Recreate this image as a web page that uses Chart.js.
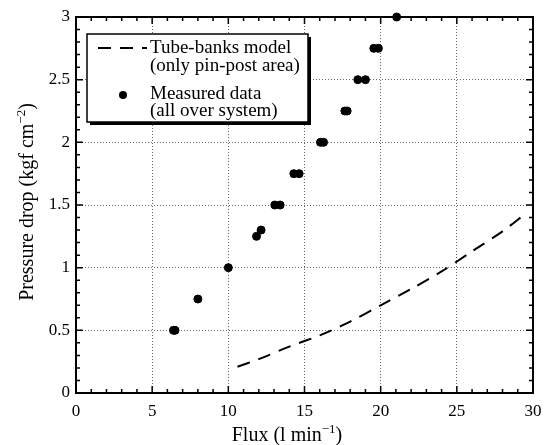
<!DOCTYPE html>
<html>
<head>
<meta charset="utf-8">
<script src="https://cdn.jsdelivr.net/npm/chart.js@4.4.0/dist/chart.umd.min.js"></script>
<style>
  html, body { margin: 0; padding: 0; background: #fff; }
</style>
</head>
<body>
<canvas id="grafico" width="545" height="445"></canvas>
<script>
// measured points
const fluxMeasured = [6.4, 6.5, 8.0, 10.0, 11.85, 12.15, 13.05, 13.4, 14.3, 14.65, 16.05, 16.25, 17.65, 17.8, 18.5, 19.0, 19.55, 19.85, 21.05];
const pressureMeasured = [0.5, 0.5, 0.75, 1.0, 1.25, 1.3, 1.5, 1.5, 1.75, 1.75, 2.0, 2.0, 2.25, 2.25, 2.5, 2.5, 2.75, 2.75, 3.0];

// tube-banks model curve
const fluxModel = [10.6, 12, 14, 16, 18, 20, 22, 24, 26, 28, 29.4];
const pressureModel = [0.21, 0.27, 0.37, 0.46, 0.57, 0.70, 0.83, 0.97, 1.13, 1.29, 1.42];

const xTicks = [0, 5, 10, 15, 20, 25, 30];
const yTicks = [0, 0.5, 1, 1.5, 2, 2.5, 3];

const legendLines = [
  ['Tube-banks model', '(only pin-post area)'],
  ['Measured data', '(all over system)']
];

// axis titles: [main text, superscript, closing]
const xTitle = ['Flux (l min', '−1', ')'];
const yTitle = ['Pressure drop (kgf cm', '−2', ')'];

const serif = '"Liberation Serif", "Times New Roman", serif';

const toPoints = (xs, ys) => xs.map((v, i) => ({ x: v, y: ys[i] }));

// draws a title with a raised exponent, centred on cx of the current transform
function tituloSup(ctx, parts, cx, baseY) {
  const big = '20px ' + serif, small = '13px ' + serif;
  ctx.font = big;
  const w1 = ctx.measureText(parts[0]).width;
  const w3 = ctx.measureText(parts[2]).width;
  ctx.font = small;
  const w2 = ctx.measureText(parts[1]).width;
  const x0 = cx - (w1 + w2 + w3) / 2;
  ctx.textAlign = 'left';
  ctx.textBaseline = 'alphabetic';
  ctx.font = big;
  ctx.fillText(parts[0], x0, baseY);
  ctx.font = small;
  ctx.fillText(parts[1], x0 + w1, baseY - 8);
  ctx.font = big;
  ctx.fillText(parts[2], x0 + w1 + w2, baseY);
}

// inward ticks on all four sides, frame, titles and boxed legend
const moldura = {
  id: 'moldura',
  beforeDatasetsDraw(chart) {
    const { ctx, chartArea: a, scales: { x, y } } = chart;
    ctx.save();
    ctx.strokeStyle = '#000';
    ctx.lineWidth = 1.5;
    ctx.beginPath();
    for (let i = 0; i <= 30; i++) {
      const px = x.getPixelForValue(i);
      const len = i % 5 === 0 ? 7 : 4;
      ctx.moveTo(px, a.bottom); ctx.lineTo(px, a.bottom - len);
      ctx.moveTo(px, a.top); ctx.lineTo(px, a.top + len);
    }
    for (let i = 0; i <= 30; i++) {
      const py = y.getPixelForValue(i / 10);
      const len = i % 5 === 0 ? 7 : 4;
      ctx.moveTo(a.left, py); ctx.lineTo(a.left + len, py);
      ctx.moveTo(a.right, py); ctx.lineTo(a.right - len, py);
    }
    ctx.stroke();
    ctx.lineWidth = 2;
    ctx.strokeRect(a.left, a.top, a.right - a.left, a.bottom - a.top);

    // axis titles
    ctx.fillStyle = '#000';
    tituloSup(ctx, xTitle, 287, 441);
    ctx.translate(33, (a.top + a.bottom) / 2 - 3);
    ctx.rotate(-Math.PI / 2);
    tituloSup(ctx, yTitle, 0, 0);
    ctx.restore();
  },
  afterDatasetsDraw(chart) {
    const { ctx, chartArea: a } = chart;
    const bx = a.left + 11, by = a.top + 17, bw = 221, bh = 88;
    ctx.save();
    // shadow + box
    ctx.fillStyle = '#000';
    ctx.fillRect(bx + 3, by + 3, bw, bh);
    ctx.fillStyle = '#fff';
    ctx.fillRect(bx, by, bw, bh);
    ctx.strokeStyle = '#000';
    ctx.lineWidth = 1.5;
    ctx.strokeRect(bx, by, bw, bh);

    // dashed sample
    ctx.lineWidth = 2;
    ctx.setLineDash([13, 9]);
    ctx.beginPath();
    ctx.moveTo(bx + 11, by + 14);
    ctx.lineTo(bx + 60, by + 14);
    ctx.stroke();
    ctx.setLineDash([]);

    // dot sample
    ctx.fillStyle = '#000';
    ctx.beginPath();
    ctx.arc(bx + 36, by + 61, 4, 0, Math.PI * 2);
    ctx.fill();

    ctx.font = '19px ' + serif;
    ctx.textBaseline = 'alphabetic';
    ctx.textAlign = 'left';
    const tx = bx + 63;
    ctx.fillText(legendLines[0][0], tx, by + 19);
    ctx.fillText(legendLines[0][1], tx, by + 37);
    ctx.fillText(legendLines[1][0], tx, by + 65);
    ctx.fillText(legendLines[1][1], tx, by + 82);
    ctx.restore();
  }
};

const ctx = document.getElementById('grafico').getContext('2d');
new Chart(ctx, {
  type: 'scatter',
  data: {
    datasets: [
      {
        label: 'Tube-banks model (only pin-post area)',
        data: toPoints(fluxModel, pressureModel),
        showLine: true,
        borderColor: '#000',
        borderWidth: 2,
        borderDash: [13, 9],
        pointRadius: 0,
        tension: 0.3
      },
      {
        label: 'Measured data (all over system)',
        data: toPoints(fluxMeasured, pressureMeasured),
        backgroundColor: '#000',
        borderColor: '#000',
        pointRadius: 4,
        pointHoverRadius: 4,
        clip: false
      }
    ]
  },
  options: {
    responsive: false,
    animation: false,
    layout: { padding: { top: 17, right: 12, left: 0, bottom: 0 } },
    plugins: {
      legend: { display: false },
      tooltip: { enabled: false }
    },
    scales: {
      x: {
        type: 'linear',
        min: 0,
        max: 30,
        afterBuildTicks: s => { s.ticks = xTicks.map(v => ({ value: v })); },
        afterFit: s => { s.height = 52; s.paddingLeft = 0; s.paddingRight = 0; },
        ticks: { color: '#000', font: { family: serif, size: 17 }, padding: 8, callback: v => String(v) },
        grid: { color: '#666', lineWidth: 1, drawTicks: false },
        border: { display: false, dash: [1, 2] }
      },
      y: {
        type: 'linear',
        min: 0,
        max: 3,
        afterBuildTicks: s => { s.ticks = yTicks.map(v => ({ value: v })); },
        afterFit: s => { s.width = 76; s.paddingTop = 0; s.paddingBottom = 0; },
        ticks: { color: '#000', font: { family: serif, size: 17 }, padding: 6, callback: v => String(v) },
        grid: { color: '#666', lineWidth: 1, drawTicks: false },
        border: { display: false, dash: [1, 2] }
      }
    }
  },
  plugins: [moldura]
});
</script>
</body>
</html>
